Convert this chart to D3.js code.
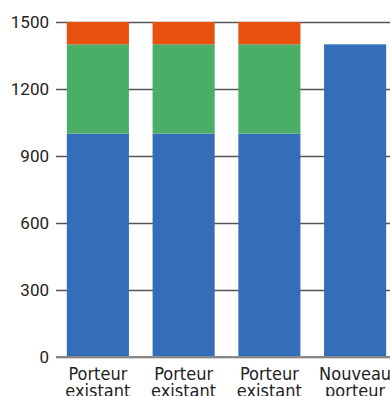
<!DOCTYPE html>
<html>
<head>
<meta charset="utf-8">
<script src="https://cdn.jsdelivr.net/npm/d3@7"></script>
<style>
  body { margin: 0; background: #fff; overflow: hidden; }
  svg { display: block; }
</style>
</head>
<body>
<svg width="390" height="396"></svg>
<script>
// data
var categories = ["Porteur existant", "Porteur existant", "Porteur existant", "Nouveau porteur"];
var baseValues = [1000, 1000, 1000, 1400];
var midValues = [400, 400, 400, 0];
var topValues = [100, 100, 100, 0];
var yTicks = [0, 300, 600, 900, 1200, 1500];

var svg = d3.select("svg");
var colors = ["#346eb8", "#4bae67", "#e8500e"];

var y = d3.scaleLinear().domain([0, 1500]).range([357, 22]);
var x = d3.scaleBand().domain(d3.range(categories.length))
  .range([55, 398]).paddingInner(0.276).paddingOuter(0.138);

// grid
var yAxis = d3.axisLeft(y).tickValues(yTicks).tickFormat(d3.format("d")).tickSize(-400);
var ga = svg.append("g").attr("transform", "translate(66,0)").call(yAxis);
ga.select(".domain").remove();
ga.selectAll(".tick line").attr("x1", -10).attr("stroke", "#555").attr("stroke-width", 1.5);
ga.selectAll(".tick text").attr("x", -17).attr("dy", "0.33em").attr("fill", "#222")
  .style("font-family", "Roboto").style("font-size", "17px");

// stacks
var rows = categories.map(function(c, i) {
  return {i: i, a: baseValues[i], b: midValues[i], c: topValues[i]};
});
var stack = d3.stack().keys(["a", "b", "c"])(rows);

svg.append("g").selectAll("g").data(stack).enter().append("g")
  .attr("fill", function(d, k) { return colors[k]; })
  .selectAll("rect").data(function(d) { return d; }).enter().append("rect")
  .attr("x", function(d) { return x(d.data.i); })
  .attr("width", x.bandwidth())
  .attr("y", function(d) { return y(d[1]); })
  .attr("height", function(d) { return y(d[0]) - y(d[1]); });

// baseline
svg.append("line").attr("x1", 56).attr("x2", 390)
  .attr("y1", y(0)).attr("y2", y(0)).attr("stroke", "#888").attr("stroke-width", 2);

// category labels
var lab = svg.append("g").selectAll("text").data(categories).enter().append("text")
  .attr("x", function(d, i) { return x(i) + x.bandwidth() / 2; })
  .attr("y", 380)
  .attr("text-anchor", "middle")
  .attr("fill", "#222")
  .style("font-family", "DejaVu Sans Condensed").style("font-stretch", "condensed")
  .style("font-size", "18px");
lab.each(function(d) {
  var words = d.split(" ");
  var t = d3.select(this);
  words.forEach(function(w, k) {
    t.append("tspan").attr("x", t.attr("x")).attr("dy", k ? 17 : 0).text(w);
  });
});
</script>
</body>
</html>
